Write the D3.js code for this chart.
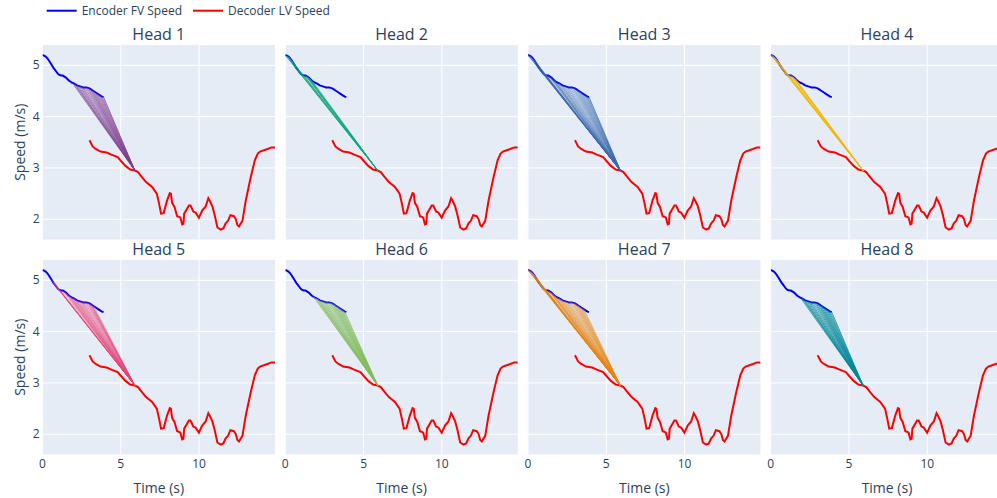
<!DOCTYPE html>
<html>

<head>
    <meta charset="utf-8">
    <script src="https://d3js.org/d3.v7.min.js"></script>
    <style>
        body { margin: 0; background: #fff; }
        text { font-family: "Open Sans", verdana, arial, sans-serif; fill: #2a3f5f; }
    </style>
    <script>
        let width = 997;
        let height = 498;

        // encoder (follower) speed, 0.1 s steps
        let encTime = [0.0, 0.1, 0.2, 0.3, 0.4, 0.5, 0.6, 0.7, 0.8, 0.9,
            1.0, 1.1, 1.2, 1.3, 1.4, 1.5, 1.6, 1.7, 1.8, 1.9,
            2.0, 2.1, 2.2, 2.3, 2.4, 2.5, 2.6, 2.7, 2.8, 2.9,
            3.0, 3.1, 3.2, 3.3, 3.4, 3.5, 3.6, 3.7, 3.8, 3.9];
        let encSpeed = [5.20, 5.19, 5.17, 5.14, 5.10, 5.05, 5.00, 4.95, 4.91, 4.87,
            4.83, 4.81, 4.80, 4.80, 4.78, 4.76, 4.73, 4.70, 4.68, 4.66,
            4.65, 4.63, 4.61, 4.60, 4.59, 4.58, 4.57, 4.57, 4.57, 4.56,
            4.55, 4.53, 4.51, 4.49, 4.47, 4.45, 4.43, 4.41, 4.39, 4.38];

        // decoder (leader) speed
        let decTime = [3.0, 3.2, 3.4, 3.7, 4.1, 4.4, 4.8, 5.0, 5.3, 5.6, 5.9, 6.1, 6.3, 6.6, 7.0,
            7.3, 7.45, 7.57, 7.74, 7.96, 8.13, 8.2, 8.28, 8.43, 8.6, 8.7, 8.81, 8.92, 9.0, 9.05,
            9.24, 9.35, 9.45, 9.56, 9.63, 9.78, 9.99, 10.2, 10.42, 10.59, 10.7, 10.85, 11.0, 11.17,
            11.38, 11.55, 11.7, 11.85, 12.0, 12.23, 12.35, 12.45, 12.55, 12.77, 12.98, 13.3, 13.56,
            13.75, 13.9, 14.37, 14.63, 14.85];
        let decSpeed = [3.54, 3.42, 3.37, 3.32, 3.30, 3.26, 3.21, 3.14, 3.04, 2.97, 2.95, 2.92, 2.84, 2.73, 2.63,
            2.50, 2.30, 2.11, 2.12, 2.37, 2.51, 2.50, 2.32, 2.24, 2.06, 2.05, 2.03, 1.90, 1.91, 2.11,
            2.21, 2.27, 2.27, 2.20, 2.15, 2.13, 2.03, 2.17, 2.25, 2.41, 2.35, 2.25, 2.08, 1.84,
            1.80, 1.82, 1.92, 1.97, 2.08, 2.06, 2.00, 1.89, 1.86, 1.97, 2.36, 2.82, 3.15,
            3.28, 3.32, 3.37, 3.40, 3.40];

        // decoder step that the attention lines point at
        let targetIndex = 10;

        let heads = ["Head 1", "Head 2", "Head 3", "Head 4", "Head 5", "Head 6", "Head 7", "Head 8"];
        let headColors = ["#7F3C8D", "#11A579", "#3969AC", "#F2B701", "#E73F74", "#80BA5A", "#E68310", "#008695"];

        // attention weight of each encoder step, per head
        let attn1 = [0, 0, 0, 0, 0, 0, 0, 0, 0, 0, 0, 0, 0, 0, 0, 0, 0, 0, 0, 0.7,
            0.6, 0.6, 0.6, 0.6, 0.6, 0.6, 0.6, 0.6, 0.6, 0.6, 0.6, 0.6, 0.6, 0.6, 0.6, 0.6, 0.6, 0.6, 0.7, 0.8];
        let attn2 = [0.9, 0.9, 0.7, 0.4, 0, 0, 0, 0, 0, 0, 0, 0, 0.6, 0.9, 0.9, 0.8, 0.6, 0.3, 0.2, 0,
            0, 0, 0, 0, 0, 0, 0, 0, 0, 0, 0, 0, 0, 0, 0, 0, 0, 0, 0, 0];
        let attn3 = [0.8, 0.6, 0.5, 0.45, 0.45, 0.45, 0.45, 0.45, 0.45, 0.45, 0.45, 0.45, 0.45, 0.45, 0.45, 0.45, 0.45, 0.45, 0.45, 0.45,
            0.45, 0.45, 0.45, 0.45, 0.45, 0.45, 0.45, 0.45, 0.45, 0.45, 0.45, 0.45, 0.45, 0.5, 0.5, 0.5, 0.5, 0.6, 0.7, 0.8];
        let attn4 = [0.9, 0.9, 0.8, 0.5, 0.2, 0, 0, 0, 0, 0, 0, 0, 0.6, 0.9, 0.9, 0.8, 0.5, 0.2, 0, 0,
            0, 0, 0, 0, 0, 0, 0, 0, 0, 0, 0, 0, 0, 0, 0, 0, 0, 0, 0, 0];
        let attn5 = [0, 0, 0, 0, 0, 0, 0.7, 0.8, 0.5, 0.35, 0.35, 0.35, 0.35, 0.35, 0.35, 0.35, 0.35, 0.45, 0.55, 0.55,
            0.55, 0.55, 0.55, 0.55, 0.55, 0.55, 0.55, 0.55, 0.55, 0.6, 0.7, 0.7, 0.6, 0.3, 0, 0, 0, 0, 0, 0];
        let attn6 = [0, 0, 0, 0, 0, 0, 0, 0, 0, 0, 0, 0, 0, 0, 0, 0, 0, 0, 0.7, 0.7,
            0.7, 0.7, 0.7, 0.7, 0.7, 0.7, 0.7, 0.7, 0.7, 0.7, 0.7, 0.7, 0.7, 0.7, 0.7, 0.7, 0.7, 0.7, 0.7, 0];
        let attn7 = [0.9, 0.9, 0.8, 0.6, 0.55, 0.55, 0.55, 0.55, 0.55, 0.55, 0.55, 0.55, 0.55, 0.55, 0.55, 0.55, 0.55, 0.55, 0.55, 0.55,
            0.55, 0.55, 0.55, 0.55, 0.55, 0.55, 0.55, 0.55, 0.55, 0.55, 0.55, 0.55, 0.55, 0.55, 0.55, 0.55, 0.45, 0, 0, 0];
        let attn8 = [0, 0, 0, 0, 0, 0, 0, 0, 0, 0, 0, 0, 0, 0, 0, 0, 0, 0, 0, 0.7,
            0.7, 0.7, 0.7, 0.7, 0.7, 0.7, 0.7, 0.7, 0.7, 0.7, 0.7, 0.7, 0.7, 0.7, 0.7, 0.7, 0.7, 0.7, 0.7, 0.8];
        let attention = [attn1, attn2, attn3, attn4, attn5, attn6, attn7, attn8];

        let xTicks = [0, 5, 10];
        let yTicks = [2, 3, 4, 5];

        // subplot grid
        let colLeft = [42.5, 285.3, 528, 770.7];
        let rowTop = [45, 260];
        let plotW = 232.5;
        let plotH = 194.5;

        function draw() {
            let svg = d3.select('body').append('svg')
                .attr('width', width)
                .attr('height', height);

            let x = d3.scaleLinear().domain([0, 14.85]).range([0, plotW]);
            let y = d3.scaleLinear().domain([1.606, 5.396]).range([plotH, 0]);

            let enc = encTime.map((t, i) => [t, encSpeed[i], i]);
            let dec = decTime.map((t, i) => [t, decSpeed[i]]);
            let target = dec[targetIndex];
            let line = d3.line().x(d => x(d[0])).y(d => y(d[1]));

            heads.forEach(function(name, h) {
                let row = Math.floor(h / 4);
                let col = h % 4;
                let g = svg.append('g')
                    .attr('transform', `translate(${colLeft[col]},${rowTop[row]})`);

                g.append('rect')
                    .attr('width', plotW)
                    .attr('height', plotH)
                    .attr('fill', '#E5ECF6');

                g.selectAll('.gx').data(xTicks).join('line')
                    .attr('x1', d => x(d)).attr('x2', d => x(d))
                    .attr('y1', 0).attr('y2', plotH)
                    .attr('stroke', '#fff').attr('stroke-width', 1);
                g.selectAll('.gy').data(yTicks).join('line')
                    .attr('x1', 0).attr('x2', plotW)
                    .attr('y1', d => y(d)).attr('y2', d => y(d))
                    .attr('stroke', '#fff').attr('stroke-width', 1);

                g.append('clipPath').attr('id', 'clip' + h)
                    .append('rect').attr('width', plotW).attr('height', plotH);
                let inner = g.append('g').attr('clip-path', `url(#clip${h})`);

                inner.append('path')
                    .attr('d', line(enc))
                    .attr('fill', 'none')
                    .attr('stroke', 'blue')
                    .attr('stroke-width', 2);
                inner.append('path')
                    .attr('d', line(dec))
                    .attr('fill', 'none')
                    .attr('stroke', 'red')
                    .attr('stroke-width', 2);

                let weights = attention[h];
                inner.selectAll('.attn')
                    .data(enc.filter(d => weights[d[2]] > 0))
                    .join('line')
                    .attr('x1', d => x(d[0]))
                    .attr('y1', d => y(d[1]))
                    .attr('x2', x(target[0]))
                    .attr('y2', y(target[1]))
                    .attr('stroke', headColors[h])
                    .attr('stroke-width', 1)
                    .attr('stroke-opacity', d => weights[d[2]]);

                // titles and axes
                svg.append('text')
                    .attr('x', colLeft[col] + plotW / 2)
                    .attr('y', rowTop[row] - 5.5)
                    .attr('text-anchor', 'middle')
                    .style('font-size', '16px')
                    .text(name);

                if (col == 0) {
                    g.selectAll('.ty').data(yTicks).join('text')
                        .attr('x', -3)
                        .attr('y', d => y(d) + 4)
                        .attr('text-anchor', 'end')
                        .style('font-size', '12px')
                        .text(d => d);
                    svg.append('text')
                        .attr('transform', `translate(24.5,${rowTop[row] + plotH / 2}) rotate(-90)`)
                        .attr('text-anchor', 'middle')
                        .style('font-size', '14px')
                        .text('Speed (m/s)');
                }
                if (row == 1) {
                    g.selectAll('.tx').data(xTicks).join('text')
                        .attr('x', d => x(d))
                        .attr('y', plotH + 13)
                        .attr('text-anchor', 'middle')
                        .style('font-size', '12px')
                        .text(d => d);
                    svg.append('text')
                        .attr('x', colLeft[col] + plotW / 2)
                        .attr('y', 492.5)
                        .attr('text-anchor', 'middle')
                        .style('font-size', '14px')
                        .text('Time (s)');
                }
            });

            // legend
            let legend = [["Encoder FV Speed", "blue", 46.7], ["Decoder LV Speed", "red", 193]];
            legend.forEach(function(d) {
                svg.append('line')
                    .attr('x1', d[2]).attr('x2', d[2] + 30)
                    .attr('y1', 10.7).attr('y2', 10.7)
                    .attr('stroke', d[1]).attr('stroke-width', 2);
                svg.append('text')
                    .attr('x', d[2] + 35)
                    .attr('y', 15)
                    .style('font-size', '12px')
                    .text(d[0]);
            });
        }
    </script>
</head>

<body>
    <script>
        draw();
    </script>
</body>

</html>
